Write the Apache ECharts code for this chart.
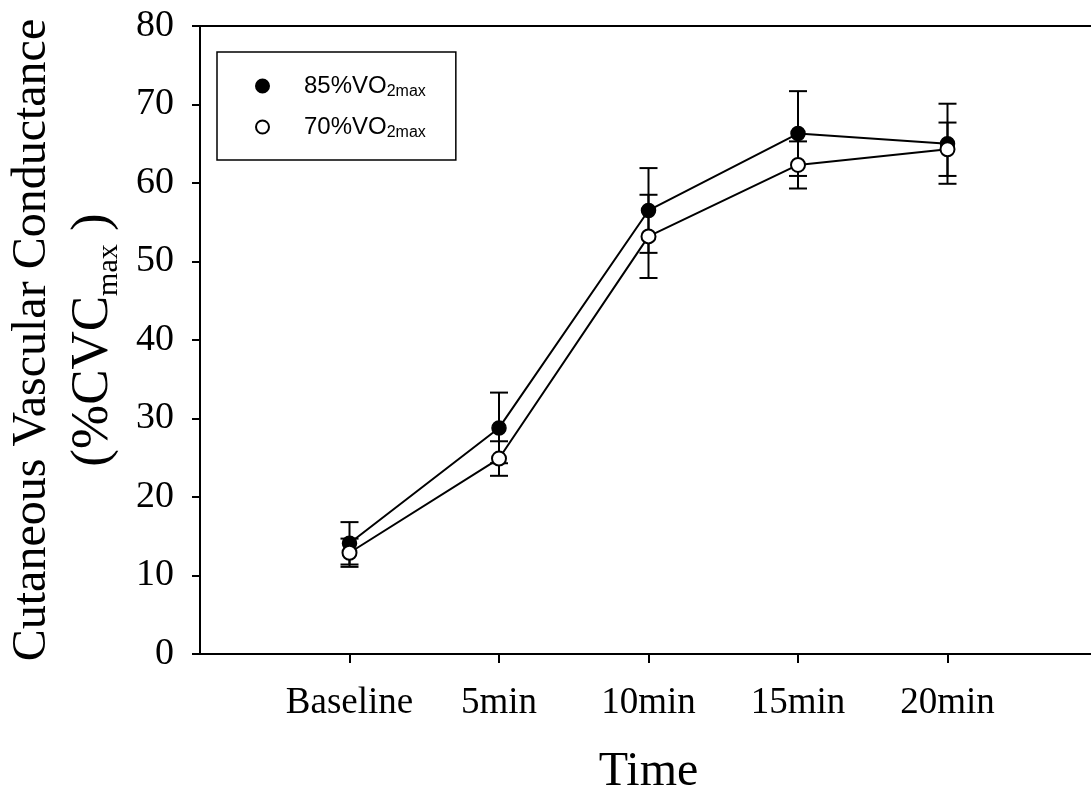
<!DOCTYPE html>
<html>
<head>
<meta charset="utf-8">
<script src="https://cdn.jsdelivr.net/npm/echarts@6/dist/echarts.min.js"></script>
<style>html,body{margin:0;padding:0;background:#fff;}#c{width:1091px;height:802px;}</style>
</head>
<body>
<div id="c"></div>
<script>
const categories = ['Baseline', '5min', '10min', '15min', '20min'];
const mean85 = [14.1, 28.8, 56.5, 66.3, 65.0];
const sem85 = [2.7, 4.5, 5.4, 5.4, 5.1];
const mean70 = [12.9, 24.9, 53.2, 62.3, 64.3];
const sem70 = [1.8, 2.2, 5.3, 3.0, 3.4];
const yTicks = [0, 10, 20, 30, 40, 50, 60, 70, 80];

const serif = "'Liberation Serif','Times New Roman',serif";
const sans = "'Liberation Sans',Arial,sans-serif";

const pts = (arr) => arr.map((v, i) => [i + 1, v]);
const errs = (m, s) => m.map((v, i) => [i + 1, v - s[i], v + s[i]]);

function errRender(params, api) {
  const x = api.value(0), lo = api.value(1), hi = api.value(2);
  const a = api.coord([x, hi]), b = api.coord([x, lo]);
  const w = 9;
  const st = { stroke: '#000', lineWidth: 2 };
  return {
    type: 'group',
    children: [
      { type: 'line', shape: { x1: a[0], y1: a[1], x2: b[0], y2: b[1] }, style: st },
      { type: 'line', shape: { x1: a[0] - w, y1: a[1], x2: a[0] + w, y2: a[1] }, style: st },
      { type: 'line', shape: { x1: b[0] - w, y1: b[1], x2: b[0] + w, y2: b[1] }, style: st }
    ]
  };
}

const chart = echarts.init(document.getElementById('c'), null, { renderer: 'canvas' });
chart.setOption({
  animation: false,
  backgroundColor: '#fff',
  grid: { left: 200, top: 26, width: 897, height: 628, containLabel: false, outerBoundsMode: 'none' },
  legend: {
    orient: 'vertical',
    left: 217, top: 52,
    padding: [20, 30, 19, 38],
    itemGap: 13,
    itemWidth: 13, itemHeight: 13,
    borderColor: '#000', borderWidth: 1.5, borderRadius: 0,
    data: [{ name: '85%VO2max', icon: 'circle' }, { name: '70%VO2max', icon: 'circle' }],
    formatter: (n) => '{sp|}{t|' + n.slice(0, n.indexOf('VO2max')) + 'VO}{s|2max}',
    textStyle: {
      rich: {
        sp: { width: 30, height: 28, lineHeight: 28 },
        t: { fontFamily: sans, fontSize: 24, color: '#000', lineHeight: 28 },
        s: { fontFamily: sans, fontSize: 16, color: '#000', lineHeight: 12, verticalAlign: 'bottom' }
      }
    }
  },
  xAxis: [{
    type: 'value', min: 0, max: 6, interval: 1,
    position: 'bottom',
    name: 'Time', nameLocation: 'middle', nameGap: 90,
    nameTextStyle: { fontFamily: serif, fontSize: 48, color: '#000', lineHeight: 56 },
    axisLine: { lineStyle: { color: '#000', width: 2 } },
    axisTick: { show: true, inside: false, length: 9, customValues: [1, 2, 3, 4, 5], lineStyle: { color: '#000', width: 2 } },
    axisLabel: {
      customValues: [1, 2, 3, 4, 5],
      formatter: (v) => categories[Math.round(v) - 1] || '',
      fontFamily: serif, fontSize: 37, color: '#000', margin: 31
    },
    splitLine: { show: false }
  }, {
    type: 'value', min: 0, max: 6, position: 'top',
    axisLine: { show: true, lineStyle: { color: '#000', width: 2 } },
    axisTick: { show: false }, axisLabel: { show: false }, splitLine: { show: false }
  }],
  yAxis: {
    type: 'value', min: 0, max: 80, interval: 10,
    name: '{a|Cutaneous Vascular Conductance}\n{b|(%CVC}{s|max}{p| )}',
    nameLocation: 'middle', nameRotate: 90, nameGap: 76,
    nameTextStyle: {
      rich: {
        a: { fontFamily: serif, fontSize: 48, color: '#000', lineHeight: 60 },
        b: { fontFamily: serif, fontSize: 53, color: '#000', lineHeight: 62 },
        p: { fontFamily: serif, fontSize: 53, color: '#000', lineHeight: 62 },
        s: { fontFamily: serif, fontSize: 30, color: '#000', lineHeight: 24, verticalAlign: 'bottom' }
      }
    },
    axisLine: { show: true, lineStyle: { color: '#000', width: 2 } },
    axisTick: { show: true, inside: false, length: 8, lineStyle: { color: '#000', width: 2 } },
    axisLabel: {
      customValues: yTicks,
      fontFamily: serif, fontSize: 38, color: '#000', margin: 26
    },
    splitLine: { show: false }
  },
  series: [
    { type: 'custom', name: 'err85', renderItem: errRender, data: errs(mean85, sem85), encode: { x: 0, y: [1, 2] }, z: 1, silent: true },
    { type: 'custom', name: 'err70', renderItem: errRender, data: errs(mean70, sem70), encode: { x: 0, y: [1, 2] }, z: 1, silent: true },
    {
      type: 'line', name: '85%VO2max', data: pts(mean85), z: 3,
      symbol: 'circle', symbolSize: 14, showAllSymbol: true,
      lineStyle: { color: '#000', width: 2 },
      itemStyle: { color: '#000', borderColor: '#000', borderWidth: 1.5 }
    },
    {
      type: 'line', name: '70%VO2max', data: pts(mean70), z: 4,
      symbol: 'circle', symbolSize: 14, showAllSymbol: true,
      lineStyle: { color: '#000', width: 2 },
      itemStyle: { color: '#fff', borderColor: '#000', borderWidth: 2 }
    }
  ]
});
</script>
</body>
</html>
